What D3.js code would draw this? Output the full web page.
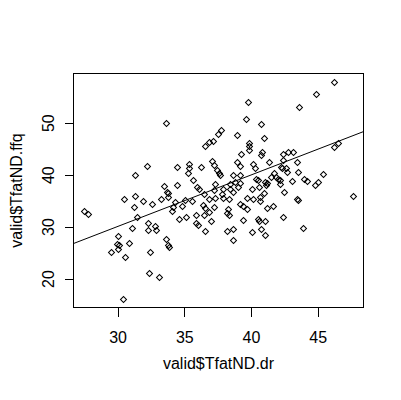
<!DOCTYPE html>
<html><head><meta charset="utf-8">
<script src="https://cdn.jsdelivr.net/npm/d3@7/dist/d3.min.js"></script>
<style>body{margin:0;background:#fff}svg{display:block}text{font-family:"Liberation Sans",Arial,sans-serif;font-size:16px;fill:#000}</style>
</head><body><svg id="c" width="401" height="400"></svg>
<script>
const tfatDr = [27.50,27.80,30.43,29.50,30.05,29.98,30.09,30.05,30.56,30.88,31.08,31.23,31.43,30.48,31.31,31.93,32.60,33.26,32.28,32.81,32.28,32.88,32.43,32.36,33.13,33.63,33.77,33.84,34.07,33.65,32.23,31.31,33.50,33.73,33.80,33.75,34.46,35.33,35.33,35.30,36.23,35.66,37.08,37.24,37.43,37.58,37.70,38.66,34.44,37.33,38.45,38.79,37.78,37.52,37.18,36.83,36.58,39.78,39.65,40.73,38.96,40.97,39.88,39.84,39.88,39.28,35.93,36.08,37.20,37.91,38.45,36.45,36.83,37.33,37.85,37.89,38.33,38.63,34.33,35.08,35.58,34.13,34.83,36.43,36.58,36.83,37.22,36.50,35.88,35.13,34.63,35.90,36.00,36.58,37.01,38.25,38.23,38.33,38.23,38.68,38.66,39.03,39.20,39.38,39.71,39.71,40.08,40.13,40.63,40.65,40.70,41.00,41.15,41.21,41.64,42.50,43.44,43.54,42.41,39.38,40.50,40.63,41.08,40.76,40.08,41.08,43.93,46.25,44.90,43.61,46.25,46.50,43.16,42.75,42.43,42.39,43.44,41.33,42.24,42.32,42.62,42.71,43.55,41.75,41.49,41.90,42.02,42.15,44.00,44.18,45.43,43.07,44.78,45.02,42.20,41.08,41.19,40.40,40.50,47.63,38.96,39.20,40.13,40.33,39.20,39.17,40.82,40.78];
const tfatFfq = [33.0,32.4,16.1,25.1,28.2,26.7,26.4,25.6,24.2,26.9,29.8,33.7,31.9,35.3,35.9,35.0,34.4,35.3,30.7,30.1,29.4,29.4,25.1,21.0,20.3,27.7,26.4,26.1,33.0,49.9,41.7,40.0,37.9,36.7,36.4,35.7,41.4,42.0,41.2,40.3,41.5,39.0,42.7,41.8,40.8,40.3,39.9,40.0,38.0,38.2,38.2,38.5,48.5,47.9,46.5,46.3,45.5,54.0,50.8,49.8,47.7,47.1,46.0,45.5,44.7,43.9,37.6,37.2,37.0,37.2,37.2,36.2,35.4,35.6,36.2,35.6,35.4,36.7,34.7,35.1,34.9,33.8,34.0,34.2,33.6,32.9,33.7,32.2,32.3,31.8,31.4,30.6,30.3,29.2,31.1,33.3,32.6,32.3,29.2,29.6,27.5,37.7,34.3,33.9,33.3,35.6,37.2,35.3,37.7,35.7,34.9,36.4,38.0,33.5,34.0,36.6,35.4,35.1,31.8,31.2,31.4,31.0,31.1,29.6,28.9,28.4,29.8,57.8,55.5,53.0,45.4,46.0,44.4,44.3,43.9,42.9,42.4,42.4,41.5,41.2,41.2,40.6,40.6,40.3,39.5,39.5,39.1,38.9,39.1,38.8,40.2,38.7,38.0,38.6,38.2,38.6,38.3,39.1,38.9,35.8,42.4,41.7,42.0,41.2,40.0,38.3,44.4,43.8];
const xTicks = [30,35,40,45];
const yTicks = [20,30,40,50];
const fitCoef = [0.29, 0.991]; // intercept, slope
const xTitle = "valid$TfatND.dr";
const yTitle = "valid$TfatND.ffq";

const svg = d3.select("#c");
const L=73.5, R=363.5, T=73.5, B=307.5;
function padExt(a){const e=d3.extent(a),p=(e[1]-e[0])*0.04;return [e[0]-p,e[1]+p];}
const x = d3.scaleLinear().domain(padExt(tfatDr)).range([L,R]);
const y = d3.scaleLinear().domain(padExt(tfatFfq)).range([B,T]);

svg.append("clipPath").attr("id","clip").append("rect").attr("x",L).attr("y",T).attr("width",R-L).attr("height",B-T);

// points
const sym = d3.symbol().type(d3.symbolSquare).size(18);
svg.append("g").selectAll("path").data(tfatDr.map((d,i)=>[d,tfatFfq[i]])).join("path")
  .attr("d",sym)
  .attr("transform",d=>`translate(${Math.round(x(d[0]))+0.5},${Math.round(y(d[1]))+0.5}) rotate(45)`)
  .attr("fill","none").attr("stroke","#000").attr("stroke-width",1);

// regression line
const xd = x.domain();
svg.append("line").attr("clip-path","url(#clip)")
  .attr("x1",x(xd[0])).attr("y1",y(fitCoef[0]+fitCoef[1]*xd[0]))
  .attr("x2",x(xd[1])).attr("y2",y(fitCoef[0]+fitCoef[1]*xd[1]))
  .attr("stroke","#000").attr("stroke-width",1);

// box
svg.append("rect").attr("x",L).attr("y",T).attr("width",R-L).attr("height",B-T)
  .attr("fill","none").attr("stroke","#000").attr("shape-rendering","crispEdges");

// x axis
const gx = svg.append("g").attr("transform",`translate(0,${B})`)
  .call(d3.axisBottom(x).tickValues(xTicks).tickSize(9).tickPadding(0).tickSizeOuter(0));
gx.select(".domain").remove();
gx.selectAll("line").attr("shape-rendering","crispEdges");
gx.selectAll("text").attr("font-size",null).attr("font-family",null).attr("dy",null).attr("y",35);

// y axis
const gy = svg.append("g").attr("transform",`translate(${L},0)`)
  .call(d3.axisLeft(y).tickValues(yTicks).tickSize(9).tickSizeOuter(0));
gy.select(".domain").remove();
gy.selectAll("line").attr("shape-rendering","crispEdges");
gy.selectAll("text").attr("font-size",null).attr("font-family",null)
  .attr("x",null).attr("dy",null).attr("text-anchor","middle")
  .attr("transform","translate(-19.5,0) rotate(-90)");

svg.select("g").raise;
svg.append("text").attr("x",(L+R)/2).attr("y",369).attr("text-anchor","middle").text(xTitle);
svg.append("text").attr("transform",`translate(21.5,${(T+B)/2}) rotate(-90)`).attr("text-anchor","middle").text(yTitle);
</script></body></html>
